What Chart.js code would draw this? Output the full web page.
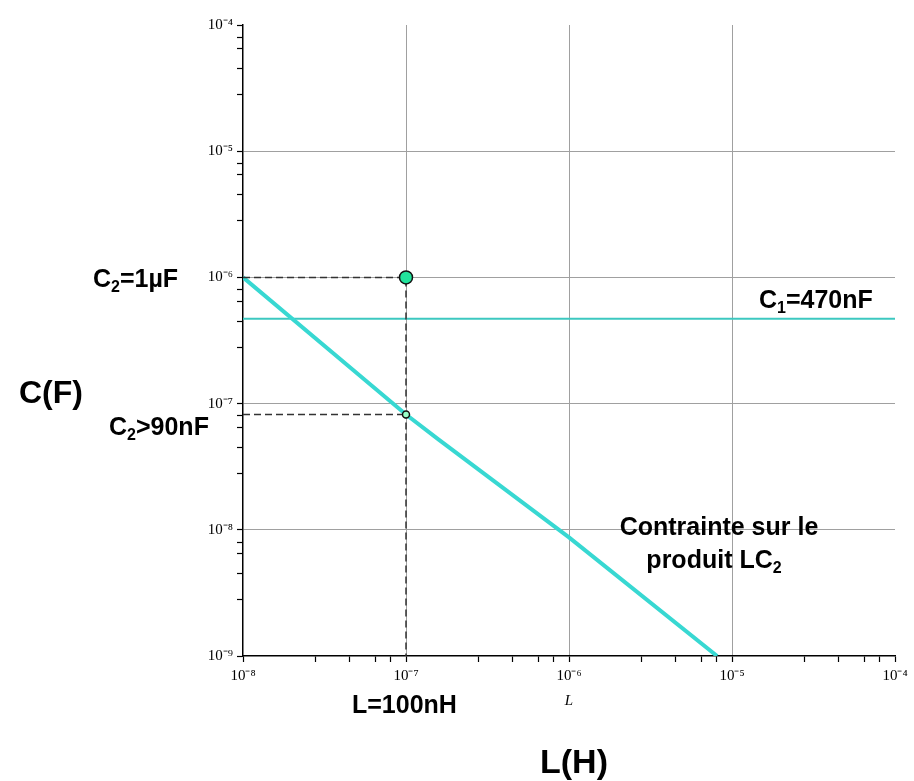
<!DOCTYPE html>
<html>
<head>
<meta charset="utf-8">
<script src="https://cdn.jsdelivr.net/npm/chart.js@4/dist/chart.umd.min.js"></script>
<style>
  html, body { margin: 0; padding: 0; background: #fff; }
</style>
</head>
<body>
<canvas id="chart" width="914" height="781"></canvas>
<script>
// curve LC2 = constant
const curveL = [1e-8, 1e-7, 1.58e-7, 1e-6, 8.1e-6];
const curveC = [1e-6, 8.2e-8, 5.2e-8, 8.7e-9, 1e-9];

// C1 = 470nF horizontal
const c1Value = 4.7e-7;
const c1L = [1e-8, 1e-4];

// chosen point and limit
const chosenL = 1e-7;
const chosenC = 1e-6;
const limitC = 8.2e-8;

// axes
const xExponents = [-8, -7, -6, -5, -4];
const yExponents = [-9, -8, -7, -6, -5, -4];
const minorMantissas = [2.8, 4.5, 6.5, 8];

const SUP = { '-': '\u207B', '0': '\u2070', '1': '\u00B9', '2': '\u00B2', '3': '\u00B3', '4': '\u2074',
              '5': '\u2075', '6': '\u2076', '7': '\u2077', '8': '\u2078', '9': '\u2079' };
function powLabel(exp) {
    return '10' + String(exp).split('').map(ch => SUP[ch]).join('');
}
function isDecade(v) {
    let e = Math.log10(v);
    return Math.abs(e - Math.round(e)) < 1e-6;
}
function buildTicks(exponents) {
    let ticks = [];
    for (let i = 0; i < exponents.length; i++) {
        ticks.push({ value: Math.pow(10, exponents[i]), major: true });
        if (i < exponents.length - 1) {
            for (let m of minorMantissas)
                ticks.push({ value: m * Math.pow(10, exponents[i]), major: false });
        }
    }
    return ticks;
}

const pts = (xs, ys) => xs.map((x, i) => ({ x: x, y: ys[i] }));

// free text around the plot: parts with optional subscript
const notes = [
    { parts: [['C'], ['2', 1], ['=1µF']], x: 93, y: 287, size: 25 },
    { parts: [['C'], ['2', 1], ['>90nF']], x: 109, y: 435, size: 25 },
    { parts: [['C(F)']], x: 19, y: 403, size: 32 },
    { parts: [['L=100nH']], x: 352, y: 713, size: 25 },
    { parts: [['L(H)']], x: 540, y: 773, size: 34 },
    { parts: [['C'], ['1', 1], ['=470nF']], x: 759, y: 308, size: 25 },
    { parts: [['Contrainte sur le']], cx: 719, y: 535, size: 25 },
    { parts: [['produit LC'], ['2', 1]], cx: 714, y: 568, size: 25 }
];

const notesPlugin = {
    id: 'notes',
    afterDraw(chart) {
        const ctx = chart.ctx;
        ctx.save();
        ctx.fillStyle = '#000';
        ctx.textBaseline = 'alphabetic';
        ctx.textAlign = 'left';
        for (let n of notes) {
            const big = 'bold ' + n.size + 'px "Liberation Sans", Arial, sans-serif';
            const small = 'bold ' + Math.round(n.size * 0.62) + 'px "Liberation Sans", Arial, sans-serif';
            let total = 0;
            for (let p of n.parts) {
                ctx.font = p[1] ? small : big;
                total += ctx.measureText(p[0]).width;
            }
            let x = n.cx !== undefined ? n.cx - total / 2 : n.x;
            for (let p of n.parts) {
                ctx.font = p[1] ? small : big;
                ctx.fillText(p[0], x, n.y + (p[1] ? n.size * 0.18 : 0));
                x += ctx.measureText(p[0]).width;
            }
        }
        ctx.restore();
    }
};

function gridColor(ctx, scale) {
    const t = ctx.tick;
    if (!t || !isDecade(t.value)) return 'rgba(0,0,0,0)';
    if (t.value <= scale.min * 1.0001 || t.value >= scale.max * 0.9999) return 'rgba(0,0,0,0)';
    return '#a0a0a0';
}

const tickFont = { family: '"Liberation Serif", "Times New Roman", serif', size: 15 };

new Chart(document.getElementById('chart'), {
    type: 'scatter',
    data: {
        datasets: [
            {
                label: 'chosen',
                data: [{ x: chosenL, y: chosenC }],
                pointRadius: 6.5,
                pointBackgroundColor: '#22e39c',
                pointBorderColor: '#111',
                pointBorderWidth: 1.5,
                order: 0
            },
            {
                label: 'limit',
                data: [{ x: chosenL, y: limitC }],
                pointRadius: 3.5,
                pointBackgroundColor: '#9affc8',
                pointBorderColor: '#111',
                pointBorderWidth: 1.5,
                order: 1
            },
            {
                label: 'dash C2 max',
                data: [{ x: curveL[0], y: chosenC }, { x: chosenL, y: chosenC }, { x: chosenL, y: Math.pow(10, yExponents[0]) }],
                showLine: true,
                borderColor: '#333',
                borderWidth: 1.5,
                borderDash: [7, 4],
                pointRadius: 0,
                order: 2
            },
            {
                label: 'dash C2 min',
                data: [{ x: curveL[0], y: limitC }, { x: chosenL, y: limitC }],
                showLine: true,
                borderColor: '#333',
                borderWidth: 1.5,
                borderDash: [7, 4],
                pointRadius: 0,
                order: 2
            },
            {
                label: 'LC2',
                data: pts(curveL, curveC),
                showLine: true,
                borderColor: '#38d8d2',
                borderWidth: 4,
                pointRadius: 0,
                order: 3
            },
            {
                label: 'C1',
                data: c1L.map(x => ({ x: x, y: c1Value })),
                showLine: true,
                borderColor: '#3cc8c0',
                borderWidth: 2,
                pointRadius: 0,
                order: 4
            }
        ]
    },
    options: {
        responsive: false,
        animation: false,
        events: [],
        layout: { padding: { left: 183, right: 19, top: 25, bottom: 71 } },
        plugins: {
            legend: { display: false },
            tooltip: { enabled: false }
        },
        scales: {
            x: {
                type: 'logarithmic',
                min: Math.pow(10, xExponents[0]),
                max: Math.pow(10, xExponents[xExponents.length - 1]),
                afterBuildTicks: s => { s.ticks = buildTicks(xExponents); },
                afterFit: s => { s.height = 54; },
                border: { display: true, color: '#000', width: 1.5 },
                grid: {
                    color: ctx => gridColor(ctx, ctx.chart.scales.x),
                    lineWidth: 1,
                    drawTicks: true,
                    tickLength: 6,
                    tickColor: '#000',
                    tickWidth: 1.2
                },
                ticks: {
                    autoSkip: false,
                    maxRotation: 0,
                    padding: 5,
                    color: '#000',
                    font: tickFont,
                    callback: v => isDecade(v) ? powLabel(Math.round(Math.log10(v))) : ''
                },
                title: {
                    display: true,
                    text: 'L',
                    color: '#000',
                    padding: { top: 0, bottom: 0 },
                    font: { family: '"Liberation Serif", serif', size: 15, style: 'italic' }
                }
            },
            y: {
                type: 'logarithmic',
                min: Math.pow(10, yExponents[0]),
                max: Math.pow(10, yExponents[yExponents.length - 1]),
                afterBuildTicks: s => { s.ticks = buildTicks(yExponents); },
                afterFit: s => { s.width = 60; },
                border: { display: true, color: '#000', width: 1.5 },
                grid: {
                    color: ctx => gridColor(ctx, ctx.chart.scales.y),
                    lineWidth: 1,
                    drawTicks: true,
                    tickLength: 6,
                    tickColor: '#000',
                    tickWidth: 1.2
                },
                ticks: {
                    autoSkip: false,
                    padding: 4,
                    color: '#000',
                    font: tickFont,
                    callback: v => isDecade(v) ? powLabel(Math.round(Math.log10(v))) : ''
                }
            }
        }
    },
    plugins: [notesPlugin]
});
</script>
</body>
</html>
